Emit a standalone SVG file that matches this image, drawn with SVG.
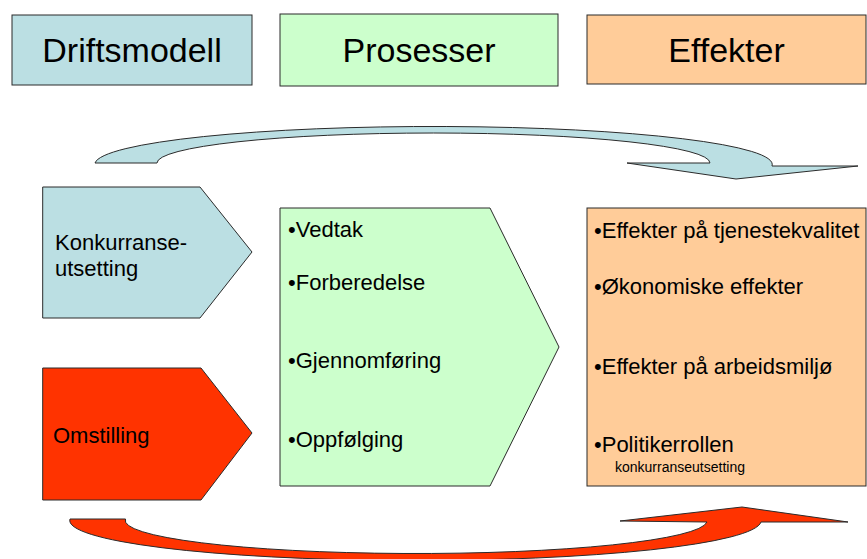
<svg xmlns="http://www.w3.org/2000/svg" width="867" height="559" viewBox="0 0 867 559">
  <style>
    .box { stroke: #2b2b2b; stroke-width: 1; }
    .blue { fill: #BBDFE3; }
    .green { fill: #CCFFCC; }
    .orange { fill: #FFCC99; }
    .red { fill: #FF3300; }
    text { font-family: "Liberation Sans", Arial, sans-serif; fill: #000; }
    .title { font-size: 34px; text-anchor: middle; }
    .body { font-size: 22px; }
    .small { font-size: 14px; }
  </style>
  <rect width="867" height="559" fill="#fff"/>

  <!-- column headers -->
  <g id="hdr-driftsmodell">
    <rect class="box blue" x="12" y="15" width="240" height="70"/>
    <text class="title" x="132" y="62">Driftsmodell</text>
  </g>
  <g id="hdr-prosesser">
    <rect class="box green" x="280" y="14" width="278" height="72"/>
    <text class="title" x="419" y="62">Prosesser</text>
  </g>
  <g id="hdr-effekter">
    <rect class="box orange" x="587" y="15" width="279" height="69"/>
    <text class="title" x="726.5" y="62">Effekter</text>
  </g>

  <!-- curved feedback arrows -->
  <g id="connectors">
    <path class="box blue" d="M95,163 A338.5,38 0 0 1 772,166 L858,166 L736,179 L627,163 L710,163 A276.5,30 0 0 0 157,163 Z"/>
    <path class="box red" d="M70,519 A345.5,40 0 0 0 761,522 L848,522 L742,507 L620,521 L707,522 A291,33 0 0 1 125.5,519 Z"/>
  </g>

  <!-- operating models -->
  <g id="node-konkurranse">
    <path class="box blue" d="M42.7,187 L200,187 L252,252 L200,318 L42.7,318 Z"/>
    <text class="body" x="55" y="250">Konkurranse-</text>
    <text class="body" x="55" y="276">utsetting</text>
  </g>
  <g id="node-omstilling">
    <path class="box red" d="M42.7,368 L201,368 L252,433 L201,500 L42.7,500 Z"/>
    <text class="body" x="53" y="443">Omstilling</text>
  </g>

  <!-- processes -->
  <g id="node-prosesser">
    <path class="box green" d="M280,208 L490,208 L559,347 L490,486 L280,486 Z"/>
    <text class="body" x="288" y="237">•Vedtak</text>
    <text class="body" x="288" y="290">•Forberedelse</text>
    <text class="body" x="288" y="368">•Gjennomføring</text>
    <text class="body" x="288" y="447">•Oppfølging</text>
  </g>

  <!-- effects -->
  <g id="node-effekter">
    <rect class="box orange" x="587" y="208" width="279" height="278"/>
    <text class="body" x="594" y="238">•Effekter på tjenestekvalitet</text>
    <text class="body" x="594" y="294">•Økonomiske effekter</text>
    <text class="body" x="594" y="374">•Effekter på arbeidsmiljø</text>
    <text class="body" x="594" y="452">•Politikerrollen</text>
    <text class="small" x="615" y="472">konkurranseutsetting</text>
  </g>
</svg>
